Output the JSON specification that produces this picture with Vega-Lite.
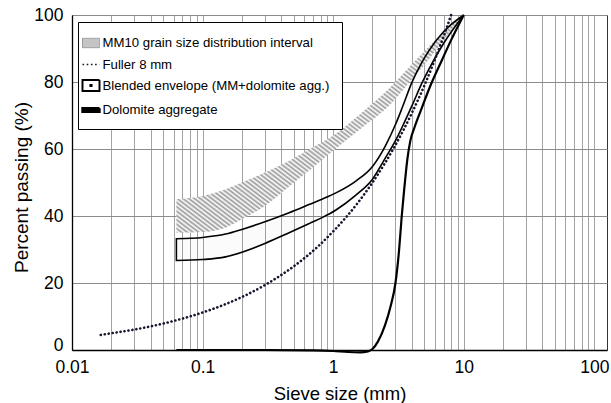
{
  "$schema": "https://vega.github.io/schema/vega-lite/v6.json",
  "width": 535,
  "height": 335,
  "autosize": {"type": "none"},
  "padding": {"left": 72, "top": 15, "right": 4, "bottom": 53},
  "background": "white",
  "config": {
    "font": "Liberation Sans",
    "view": {"stroke": "#333", "strokeWidth": 1}
  },
  "datasets": {
    "mm10": [
      {"x": 0.063, "lo": 35, "y": 45},
      {"x": 0.1, "lo": 35.2, "y": 46},
      {"x": 0.15, "lo": 36.5, "y": 48},
      {"x": 0.2, "lo": 39, "y": 50},
      {"x": 0.3, "lo": 43, "y": 53},
      {"x": 0.45, "lo": 48.5, "y": 56.3},
      {"x": 0.7, "lo": 54.5, "y": 60.5},
      {"x": 1, "lo": 59.5, "y": 64},
      {"x": 1.67, "lo": 66.4, "y": 71},
      {"x": 2.67, "lo": 72.8, "y": 78},
      {"x": 4, "lo": 80.8, "y": 85.3},
      {"x": 5.4, "lo": 86.8, "y": 90.5},
      {"x": 7, "lo": 92.5, "y": 95},
      {"x": 10, "lo": 100, "y": 100}
    ],
    "env": [
      {"x": 0.063, "lo": 26.7, "y": 33.2},
      {"x": 0.1, "lo": 27, "y": 33.6},
      {"x": 0.15, "lo": 27.8, "y": 34.6},
      {"x": 0.2, "lo": 29.2, "y": 36},
      {"x": 0.3, "lo": 31.8, "y": 38.3},
      {"x": 0.46, "lo": 35, "y": 41},
      {"x": 0.66, "lo": 37.8, "y": 43.5},
      {"x": 0.83, "lo": 39.6, "y": 45.1},
      {"x": 1.05, "lo": 41.8, "y": 46.9},
      {"x": 1.5, "lo": 46.3, "y": 50.5},
      {"x": 2, "lo": 51, "y": 54.8},
      {"x": 2.5, "lo": 57.2, "y": 60.8},
      {"x": 3, "lo": 62.5, "y": 67.3},
      {"x": 3.4, "lo": 66.8, "y": 72.6},
      {"x": 4, "lo": 72.8, "y": 79.8},
      {"x": 4.8, "lo": 79.8, "y": 86},
      {"x": 5.4, "lo": 83.8, "y": 89.3},
      {"x": 7, "lo": 91.5, "y": 95},
      {"x": 10, "lo": 100, "y": 100}
    ],
    "fuller": [
      {"x": 0.0166, "y": 4.5},
      {"x": 0.02, "y": 5},
      {"x": 0.03, "y": 6.1},
      {"x": 0.05, "y": 7.9},
      {"x": 0.075, "y": 9.7},
      {"x": 0.1, "y": 11.2},
      {"x": 0.15, "y": 13.7},
      {"x": 0.2, "y": 15.8},
      {"x": 0.3, "y": 19.4},
      {"x": 0.5, "y": 25},
      {"x": 0.75, "y": 30.6},
      {"x": 1, "y": 35.4},
      {"x": 1.5, "y": 43.3},
      {"x": 2, "y": 50},
      {"x": 3, "y": 61.2},
      {"x": 4, "y": 70.7},
      {"x": 5, "y": 79},
      {"x": 6, "y": 86.6},
      {"x": 7, "y": 93.5},
      {"x": 8, "y": 100}
    ],
    "dolo": [
      {"x": 0.063, "y": 0},
      {"x": 0.3, "y": 0},
      {"x": 0.7, "y": -0.1},
      {"x": 1, "y": -0.3},
      {"x": 1.3, "y": -0.6},
      {"x": 1.6, "y": -0.7},
      {"x": 1.85, "y": -0.4},
      {"x": 2, "y": 0.3},
      {"x": 2.2, "y": 2.5},
      {"x": 2.5, "y": 7.5},
      {"x": 2.75, "y": 13},
      {"x": 3, "y": 20},
      {"x": 3.2, "y": 30},
      {"x": 3.35, "y": 40},
      {"x": 3.5, "y": 48},
      {"x": 3.7, "y": 57},
      {"x": 3.9, "y": 62.5},
      {"x": 4.2, "y": 66.5},
      {"x": 4.8, "y": 72.5},
      {"x": 5.5, "y": 78.5},
      {"x": 6.8, "y": 86.5},
      {"x": 8, "y": 92.5},
      {"x": 10, "y": 100}
    ],
    "leg": [
      {"series": "MM10 grain size distribution interval"},
      {"series": "Fuller 8 mm"},
      {"series": "Blended envelope (MM+dolomite agg.)"},
      {"series": "Dolomite aggregate"}
    ]
  },
  "encoding": {
    "x": {
      "field": "x", "type": "quantitative",
      "scale": {"type": "log", "domain": [0.01, 125], "nice": false},
      "axis": {
        "title": "Sieve size (mm)",
        "values": [0.01,0.02,0.03,0.04,0.05,0.06,0.07,0.08,0.09,0.1,0.2,0.3,0.4,0.5,0.6,0.7,0.8,0.9,1,2,3,4,5,6,7,8,9,10,20,30,40,50,60,70,80,90,100],
        "labelExpr": "datum.value == 0.01 || datum.value == 0.1 || datum.value == 1 || datum.value == 10 || datum.value == 100 ? format(datum.value, '~g') : ''",
        "labelOverlap": false,
        "labelFlush": false,
        "grid": true, "gridColor": "#a3a3a3", "gridWidth": 1,
        "ticks": false, "tickSize": 0,
        "labelPadding": 8, "labelFontSize": 17.5, "labelColor": "#000",
        "domainColor": "#000", "domainWidth": 1.3,
        "titleFontSize": 18.5, "titleFontWeight": "normal", "titleColor": "#000",
        "titleY": 34, "titleBaseline": "top"
      }
    },
    "y": {
      "field": "y", "type": "quantitative",
      "scale": {"domain": [0, 100], "nice": false},
      "axis": {
        "title": "Percent passing (%)",
        "values": [0, 20, 40, 60, 80, 100],
        "grid": true, "gridColor": "#8c8c8c", "gridWidth": 1,
        "ticks": false, "tickSize": 0,
        "labelPadding": 9, "labelFontSize": 17.5, "labelColor": "#000",
        "labelBaseline": {"condition": {"test": "datum.value == 0", "value": "alphabetic"}, "value": "middle"},
        "domainColor": "#000", "domainWidth": 1.3,
        "titleFontSize": 19, "titleFontWeight": "normal", "titleColor": "#000",
        "titleX": -51, "titleY": 172, "titleAngle": -90, "titleBaseline": "middle", "titleAlign": "center"
      }
    }
  },
  "layer": [
    {
      "data": {"name": "mm10"},
      "mark": {
        "type": "area",
        "interpolate": "monotone",
        "fill": {
          "gradient": "linear", "x1": 0, "y1": 1, "x2": 1, "y2": 0,
          "stops": [
            {"offset":0,"color":"#999"},{"offset":0.005,"color":"#fff"},{"offset":0.01,"color":"#999"},{"offset":0.015,"color":"#fff"},
            {"offset":0.02,"color":"#999"},{"offset":0.025,"color":"#fff"},{"offset":0.03,"color":"#999"},{"offset":0.035,"color":"#fff"},
            {"offset":0.04,"color":"#999"},{"offset":0.045,"color":"#fff"},{"offset":0.05,"color":"#999"},{"offset":0.055,"color":"#fff"},
            {"offset":0.06,"color":"#999"},{"offset":0.065,"color":"#fff"},{"offset":0.07,"color":"#999"},{"offset":0.075,"color":"#fff"},
            {"offset":0.08,"color":"#999"},{"offset":0.085,"color":"#fff"},{"offset":0.09,"color":"#999"},{"offset":0.095,"color":"#fff"},
            {"offset":0.1,"color":"#999"},{"offset":0.105,"color":"#fff"},{"offset":0.11,"color":"#999"},{"offset":0.115,"color":"#fff"},
            {"offset":0.12,"color":"#999"},{"offset":0.125,"color":"#fff"},{"offset":0.13,"color":"#999"},{"offset":0.135,"color":"#fff"},
            {"offset":0.14,"color":"#999"},{"offset":0.145,"color":"#fff"},{"offset":0.15,"color":"#999"},{"offset":0.155,"color":"#fff"},
            {"offset":0.16,"color":"#999"},{"offset":0.165,"color":"#fff"},{"offset":0.17,"color":"#999"},{"offset":0.175,"color":"#fff"},
            {"offset":0.18,"color":"#999"},{"offset":0.185,"color":"#fff"},{"offset":0.19,"color":"#999"},{"offset":0.195,"color":"#fff"},
            {"offset":0.2,"color":"#999"},{"offset":0.205,"color":"#fff"},{"offset":0.21,"color":"#999"},{"offset":0.215,"color":"#fff"},
            {"offset":0.22,"color":"#999"},{"offset":0.225,"color":"#fff"},{"offset":0.23,"color":"#999"},{"offset":0.235,"color":"#fff"},
            {"offset":0.24,"color":"#999"},{"offset":0.245,"color":"#fff"},{"offset":0.25,"color":"#999"},{"offset":0.255,"color":"#fff"},
            {"offset":0.26,"color":"#999"},{"offset":0.265,"color":"#fff"},{"offset":0.27,"color":"#999"},{"offset":0.275,"color":"#fff"},
            {"offset":0.28,"color":"#999"},{"offset":0.285,"color":"#fff"},{"offset":0.29,"color":"#999"},{"offset":0.295,"color":"#fff"},
            {"offset":0.3,"color":"#999"},{"offset":0.305,"color":"#fff"},{"offset":0.31,"color":"#999"},{"offset":0.315,"color":"#fff"},
            {"offset":0.32,"color":"#999"},{"offset":0.325,"color":"#fff"},{"offset":0.33,"color":"#999"},{"offset":0.335,"color":"#fff"},
            {"offset":0.34,"color":"#999"},{"offset":0.345,"color":"#fff"},{"offset":0.35,"color":"#999"},{"offset":0.355,"color":"#fff"},
            {"offset":0.36,"color":"#999"},{"offset":0.365,"color":"#fff"},{"offset":0.37,"color":"#999"},{"offset":0.375,"color":"#fff"},
            {"offset":0.38,"color":"#999"},{"offset":0.385,"color":"#fff"},{"offset":0.39,"color":"#999"},{"offset":0.395,"color":"#fff"},
            {"offset":0.4,"color":"#999"},{"offset":0.405,"color":"#fff"},{"offset":0.41,"color":"#999"},{"offset":0.415,"color":"#fff"},
            {"offset":0.42,"color":"#999"},{"offset":0.425,"color":"#fff"},{"offset":0.43,"color":"#999"},{"offset":0.435,"color":"#fff"},
            {"offset":0.44,"color":"#999"},{"offset":0.445,"color":"#fff"},{"offset":0.45,"color":"#999"},{"offset":0.455,"color":"#fff"},
            {"offset":0.46,"color":"#999"},{"offset":0.465,"color":"#fff"},{"offset":0.47,"color":"#999"},{"offset":0.475,"color":"#fff"},
            {"offset":0.48,"color":"#999"},{"offset":0.485,"color":"#fff"},{"offset":0.49,"color":"#999"},{"offset":0.495,"color":"#fff"},
            {"offset":0.5,"color":"#999"},{"offset":0.505,"color":"#fff"},{"offset":0.51,"color":"#999"},{"offset":0.515,"color":"#fff"},
            {"offset":0.52,"color":"#999"},{"offset":0.525,"color":"#fff"},{"offset":0.53,"color":"#999"},{"offset":0.535,"color":"#fff"},
            {"offset":0.54,"color":"#999"},{"offset":0.545,"color":"#fff"},{"offset":0.55,"color":"#999"},{"offset":0.555,"color":"#fff"},
            {"offset":0.56,"color":"#999"},{"offset":0.565,"color":"#fff"},{"offset":0.57,"color":"#999"},{"offset":0.575,"color":"#fff"},
            {"offset":0.58,"color":"#999"},{"offset":0.585,"color":"#fff"},{"offset":0.59,"color":"#999"},{"offset":0.595,"color":"#fff"},
            {"offset":0.6,"color":"#999"},{"offset":0.605,"color":"#fff"},{"offset":0.61,"color":"#999"},{"offset":0.615,"color":"#fff"},
            {"offset":0.62,"color":"#999"},{"offset":0.625,"color":"#fff"},{"offset":0.63,"color":"#999"},{"offset":0.635,"color":"#fff"},
            {"offset":0.64,"color":"#999"},{"offset":0.645,"color":"#fff"},{"offset":0.65,"color":"#999"},{"offset":0.655,"color":"#fff"},
            {"offset":0.66,"color":"#999"},{"offset":0.665,"color":"#fff"},{"offset":0.67,"color":"#999"},{"offset":0.675,"color":"#fff"},
            {"offset":0.68,"color":"#999"},{"offset":0.685,"color":"#fff"},{"offset":0.69,"color":"#999"},{"offset":0.695,"color":"#fff"},
            {"offset":0.7,"color":"#999"},{"offset":0.705,"color":"#fff"},{"offset":0.71,"color":"#999"},{"offset":0.715,"color":"#fff"},
            {"offset":0.72,"color":"#999"},{"offset":0.725,"color":"#fff"},{"offset":0.73,"color":"#999"},{"offset":0.735,"color":"#fff"},
            {"offset":0.74,"color":"#999"},{"offset":0.745,"color":"#fff"},{"offset":0.75,"color":"#999"},{"offset":0.755,"color":"#fff"},
            {"offset":0.76,"color":"#999"},{"offset":0.765,"color":"#fff"},{"offset":0.77,"color":"#999"},{"offset":0.775,"color":"#fff"},
            {"offset":0.78,"color":"#999"},{"offset":0.785,"color":"#fff"},{"offset":0.79,"color":"#999"},{"offset":0.795,"color":"#fff"},
            {"offset":0.8,"color":"#999"},{"offset":0.805,"color":"#fff"},{"offset":0.81,"color":"#999"},{"offset":0.815,"color":"#fff"},
            {"offset":0.82,"color":"#999"},{"offset":0.825,"color":"#fff"},{"offset":0.83,"color":"#999"},{"offset":0.835,"color":"#fff"},
            {"offset":0.84,"color":"#999"},{"offset":0.845,"color":"#fff"},{"offset":0.85,"color":"#999"},{"offset":0.855,"color":"#fff"},
            {"offset":0.86,"color":"#999"},{"offset":0.865,"color":"#fff"},{"offset":0.87,"color":"#999"},{"offset":0.875,"color":"#fff"},
            {"offset":0.88,"color":"#999"},{"offset":0.885,"color":"#fff"},{"offset":0.89,"color":"#999"},{"offset":0.895,"color":"#fff"},
            {"offset":0.9,"color":"#999"},{"offset":0.905,"color":"#fff"},{"offset":0.91,"color":"#999"},{"offset":0.915,"color":"#fff"},
            {"offset":0.92,"color":"#999"},{"offset":0.925,"color":"#fff"},{"offset":0.93,"color":"#999"},{"offset":0.935,"color":"#fff"},
            {"offset":0.94,"color":"#999"},{"offset":0.945,"color":"#fff"},{"offset":0.95,"color":"#999"},{"offset":0.955,"color":"#fff"},
            {"offset":0.96,"color":"#999"},{"offset":0.965,"color":"#fff"},{"offset":0.97,"color":"#999"},{"offset":0.975,"color":"#fff"},
            {"offset":0.98,"color":"#999"},{"offset":0.985,"color":"#fff"},{"offset":0.99,"color":"#999"},{"offset":0.995,"color":"#fff"},
            {"offset":1,"color":"#999"}
          ]
        }
      },
      "encoding": {
        "y2": {"field": "lo"}
      }
    },
    {
      "data": {"name": "env"},
      "mark": {"type": "area", "interpolate": "monotone", "fill": "#000", "fillOpacity": 0.015, "stroke": "#000", "strokeWidth": 1.6},
      "encoding": {
        "y2": {"field": "lo"}
      }
    },
    {
      "data": {"name": "fuller"},
      "mark": {"type": "line", "interpolate": "monotone", "color": "#15152e", "strokeWidth": 2.6, "strokeDash": [0.1, 3.9], "strokeCap": "round"},
      "encoding": {}
    },
    {
      "data": {"name": "dolo"},
      "mark": {"type": "line", "interpolate": "monotone", "color": "#000", "strokeWidth": 2.2},
      "encoding": {}
    },
    {
      "data": {"name": "leg"},
      "mark": {"type": "point", "opacity": 0},
      "encoding": {
        "shape": {
          "field": "series", "type": "nominal",
          "scale": {
            "domain": ["MM10 grain size distribution interval", "Fuller 8 mm", "Blended envelope (MM+dolomite agg.)", "Dolomite aggregate"],
            "range": ["M-1,-0.55H1V0.55H-1Z", "M-1,0H1", "M-1,-0.65H1V0.65H-1ZM-0.07,-0.07H0.07V0.07H-0.07Z", "M-1,-0.22H1V0.22H-1Z"]
          },
          "legend": {
            "title": null, "orient": "none", "legendX": 6, "legendY": 7,
            "padding": 12, "rowPadding": 5, "symbolSize": 289, "symbolOffset": -9, "labelOffset": 1.5,
            "symbolOpacity": 1,
            "labelFontSize": 13.2, "labelColor": "#000", "labelLimit": 400,
            "fillColor": "#fff", "strokeColor": "#000"
          }
        },
        "fill": {
          "field": "series", "type": "nominal",
          "scale": {
            "domain": ["MM10 grain size distribution interval", "Fuller 8 mm", "Blended envelope (MM+dolomite agg.)", "Dolomite aggregate"],
            "range": ["#c4c4c4", "transparent", "#ffffff", "#000000"]
          }
        },
        "stroke": {
          "field": "series", "type": "nominal",
          "scale": {
            "domain": ["MM10 grain size distribution interval", "Fuller 8 mm", "Blended envelope (MM+dolomite agg.)", "Dolomite aggregate"],
            "range": ["#999999", "#15152e", "#000000", "#000000"]
          }
        },
        "strokeDash": {
          "field": "series", "type": "nominal",
          "scale": {
            "domain": ["MM10 grain size distribution interval", "Fuller 8 mm", "Blended envelope (MM+dolomite agg.)", "Dolomite aggregate"],
            "range": [[1, 0], [1.6, 2.6], [1, 0], [1, 0]]
          }
        },
        "strokeWidth": {
          "field": "series", "type": "nominal",
          "scale": {
            "domain": ["MM10 grain size distribution interval", "Fuller 8 mm", "Blended envelope (MM+dolomite agg.)", "Dolomite aggregate"],
            "range": [1, 2.4, 1.1, 1]
          }
        }
      }
    }
  ]
}
